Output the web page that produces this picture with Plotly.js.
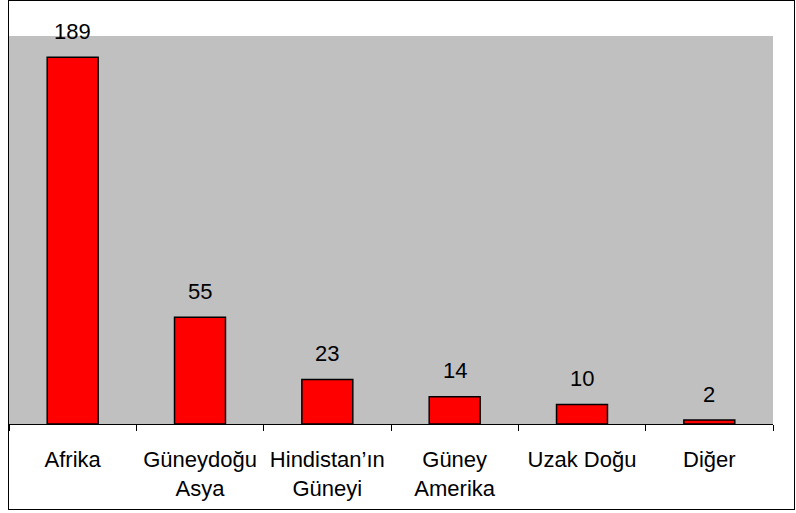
<!DOCTYPE html>
<html>
<head>
<meta charset="utf-8">
<script src="https://cdn.plot.ly/plotly-3.0.1.min.js"></script>
<style>
html,body{margin:0;padding:0;background:#fff;}
#chart{position:absolute;left:0;top:0;width:796px;height:513px;}
#frame{position:absolute;left:8px;top:0;width:787px;height:510px;border:1.5px solid #000;box-sizing:border-box;pointer-events:none;}
</style>
</head>
<body>
<div id="chart"></div>
<div id="frame"></div>
<script>
const categories = ["Afrika", "Güneydoğu<br>Asya", "Hindistan’ın<br>Güneyi", "Güney<br>Amerika", "Uzak Doğu", "Diğer"];
const values = [189, 55, 23, 14, 10, 2];

const font = {family: "Liberation Sans, Arial, sans-serif", size: 22, color: "#000"};

const trace = {
  type: "bar",
  x: categories,
  y: values,
  marker: {color: "#FF0000", line: {color: "#000", width: 1.5}},
  hoverinfo: "none"
};

const annotations = categories.map((c, i) => ({
  x: c, y: values[i], xref: "x", yref: "y",
  text: String(values[i]), showarrow: false,
  yanchor: "bottom", yshift: 11.5, font: font
}));

const layout = {
  width: 796, height: 513,
  margin: {l: 9, r: 23, t: 36, b: 89},
  paper_bgcolor: "#fff",
  plot_bgcolor: "#C0C0C0",
  bargap: 0.6,
  showlegend: false,
  font: font,
  xaxis: {
    type: "category",
    tickson: "boundaries",
    ticks: "outside", ticklen: 6, tickwidth: 1, tickcolor: "#000",
    showline: true, linecolor: "#000", linewidth: 1,
    showgrid: false, zeroline: false,
    tickfont: font,
    ticklabelstandoff: 16
  },
  yaxis: {
    range: [0, 200], visible: false, showgrid: false, zeroline: false, fixedrange: true
  },
  annotations: annotations
};

Plotly.newPlot("chart", [trace], layout, {displayModeBar: false, staticPlot: true});
</script>
</body>
</html>
